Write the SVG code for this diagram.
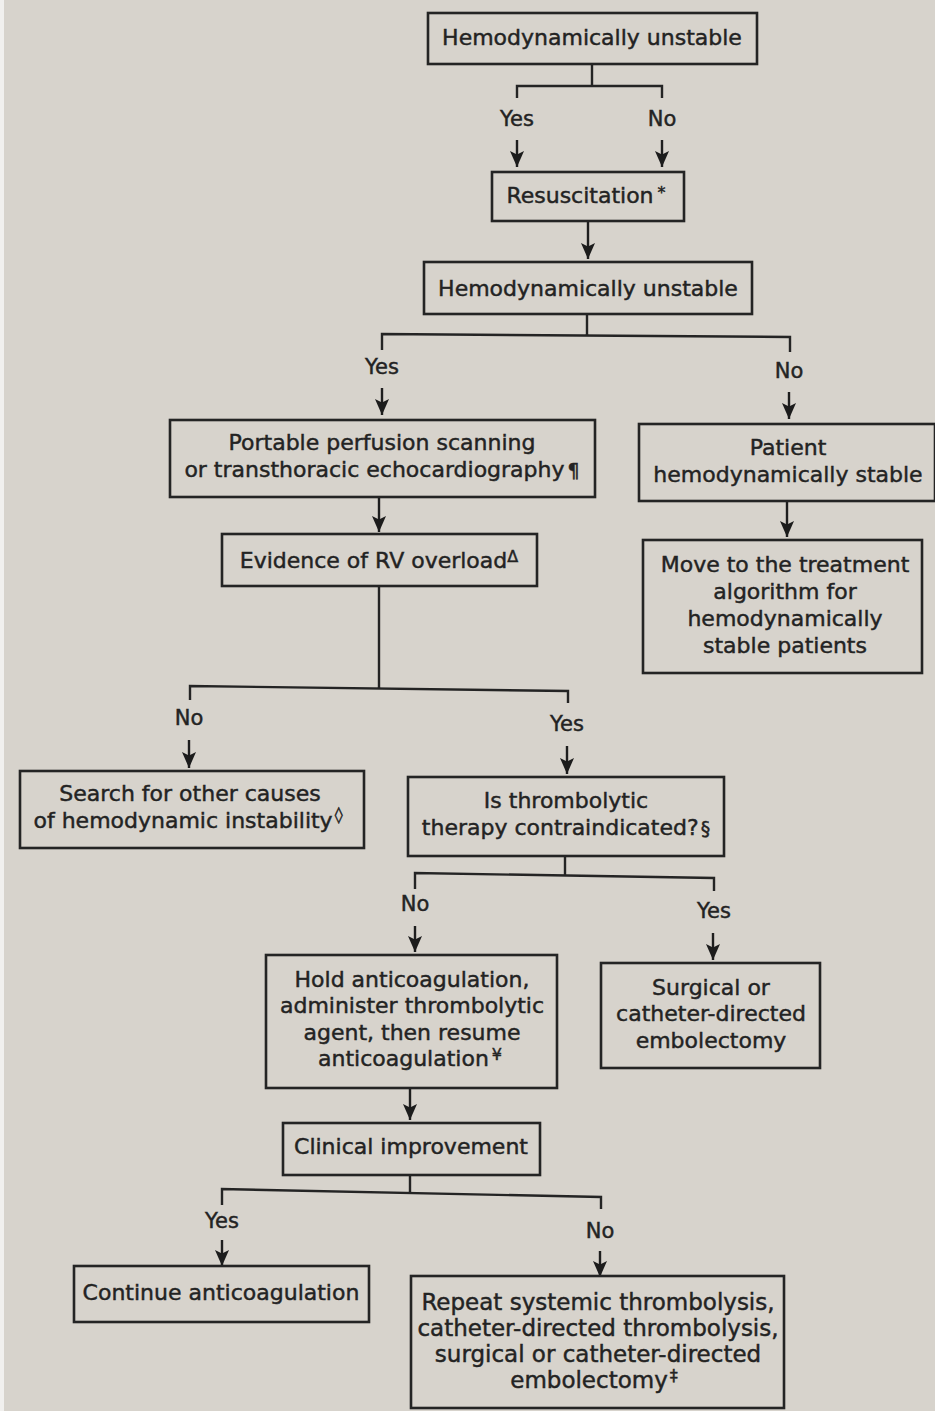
<svg xmlns="http://www.w3.org/2000/svg" width="935" height="1411" viewBox="0 0 935 1411">
  <defs>
    <!-- filled, notched arrowhead; drawn along +x so orient="auto" turns it with the line -->
    <marker id="arrow" viewBox="0 0 16 14" refX="16" refY="7" markerWidth="16" markerHeight="14" markerUnits="userSpaceOnUse" orient="auto">
      <path d="M0,0 L16,7 L0,14 L3.5,7 Z" fill="#1c1c1c"/>
    </marker>
    <style>
      .box { fill: none; stroke: #242424; stroke-width: 2.6; }
      .wire { fill: none; stroke: #242424; stroke-width: 2.4; }
      .arr { fill: none; stroke: #1e1e1e; stroke-width: 2.4; }
      .t { font-family: "DejaVu Sans", Verdana, sans-serif; font-size: 22px; fill: #232323; stroke: #232323; stroke-width: 0.45; text-anchor: middle; }
      .lbl { font-family: "DejaVu Sans", Verdana, sans-serif; font-size: 21px; fill: #232323; stroke: #232323; stroke-width: 0.45; text-anchor: middle; }
      .big { font-size: 23px; }
      .sup { font-size: 16px; }
    </style>
  </defs>

  <!-- paper -->
  <rect x="0" y="0" width="935" height="1411" fill="#d7d3cc"/>
  <rect x="0" y="0" width="4" height="1411" fill="#f1f0ee"/>

  <!-- connectors -->
  <g id="connectors">
    <path class="wire" d="M592,64 V86 M517,98 V86 H662 V98"/>
    <line class="arr" x1="517" y1="140" x2="517" y2="167" marker-end="url(#arrow)"/>
    <line class="arr" x1="662" y1="140" x2="662" y2="167" marker-end="url(#arrow)"/>
    <line class="arr" x1="588" y1="221" x2="588" y2="259" marker-end="url(#arrow)"/>

    <path class="wire" d="M587,314 V335 M382,350 V334 L790,337 V352"/>
    <line class="arr" x1="382" y1="388" x2="382" y2="415" marker-end="url(#arrow)"/>
    <line class="arr" x1="789" y1="392" x2="789" y2="419" marker-end="url(#arrow)"/>
    <line class="arr" x1="379" y1="497" x2="379" y2="532" marker-end="url(#arrow)"/>
    <line class="arr" x1="787" y1="501" x2="787" y2="537" marker-end="url(#arrow)"/>

    <path class="wire" d="M379,586 V688 M190,700 V686 L568,691 V703"/>
    <line class="arr" x1="189" y1="740" x2="189" y2="768" marker-end="url(#arrow)"/>
    <line class="arr" x1="567" y1="746" x2="567" y2="774" marker-end="url(#arrow)"/>

    <path class="wire" d="M565,856 V875 M415,889 V873 L714,878 V891"/>
    <line class="arr" x1="415" y1="926" x2="415" y2="952" marker-end="url(#arrow)"/>
    <line class="arr" x1="713" y1="933" x2="713" y2="960" marker-end="url(#arrow)"/>
    <line class="arr" x1="410" y1="1088" x2="410" y2="1120" marker-end="url(#arrow)"/>

    <path class="wire" d="M410,1175 V1192 M222,1205 V1189 L601,1197 V1209"/>
    <line class="arr" x1="222" y1="1240" x2="222" y2="1266" marker-end="url(#arrow)"/>
    <line class="arr" x1="600" y1="1251" x2="600" y2="1277" marker-end="url(#arrow)"/>

    <text class="lbl" x="517" y="126">Yes</text>
    <text class="lbl" x="662" y="126">No</text>
    <text class="lbl" x="382" y="374">Yes</text>
    <text class="lbl" x="789" y="378">No</text>
    <text class="lbl" x="189" y="725">No</text>
    <text class="lbl" x="567" y="731">Yes</text>
    <text class="lbl" x="415" y="911">No</text>
    <text class="lbl" x="714" y="918">Yes</text>
    <text class="lbl" x="222" y="1228">Yes</text>
    <text class="lbl" x="600" y="1238">No</text>
  </g>

  <g id="n1">
    <rect class="box" x="428" y="13" width="329" height="51"/>
    <text class="t" x="592" y="45">Hemodynamically unstable</text>
  </g>
  <g id="n2">
    <rect class="box" x="492" y="172" width="192" height="49"/>
    <text class="t" x="586" y="203">Resuscitation<tspan class="sup" dx="4" dy="-5">*</tspan></text>
  </g>
  <g id="n3">
    <rect class="box" x="424" y="262" width="328" height="52"/>
    <text class="t" x="588" y="296">Hemodynamically unstable</text>
  </g>
  <g id="n4">
    <rect class="box" x="170" y="420" width="425" height="77"/>
    <text class="t" x="382" y="450">Portable perfusion scanning</text>
    <text class="t" x="382" y="477">or transthoracic echocardiography<tspan dx="3" font-size="19">¶</tspan></text>
  </g>
  <g id="n5">
    <rect class="box" x="639" y="424" width="296" height="77"/>
    <text class="t" x="788" y="455">Patient</text>
    <text class="t" x="788" y="482">hemodynamically stable</text>
  </g>
  <g id="n6">
    <rect class="box" x="222" y="534" width="315" height="52"/>
    <text class="t" x="379" y="568">Evidence of RV overload<tspan class="sup" dy="-6">Δ</tspan></text>
  </g>
  <g id="n7">
    <rect class="box" x="643" y="540" width="279" height="133"/>
    <text class="t" x="785" y="572">Move to the treatment</text>
    <text class="t" x="785" y="599">algorithm for</text>
    <text class="t" x="785" y="626">hemodynamically</text>
    <text class="t" x="785" y="653">stable patients</text>
  </g>
  <g id="n8">
    <rect class="box" x="20" y="771" width="344" height="77"/>
    <text class="t" x="190" y="801">Search for other causes</text>
    <text class="t" x="188" y="828">of hemodynamic instability<tspan class="sup" dx="2" dy="-8">◊</tspan></text>
  </g>
  <g id="n9">
    <rect class="box" x="408" y="777" width="316" height="79"/>
    <text class="t" x="566" y="808">Is thrombolytic</text>
    <text class="t" x="566" y="835">therapy contraindicated?<tspan dx="2" font-size="19">§</tspan></text>
  </g>
  <g id="n10">
    <rect class="box" x="266" y="955" width="291" height="133"/>
    <text class="t" x="412" y="987">Hold anticoagulation,</text>
    <text class="t" x="412" y="1013">administer thrombolytic</text>
    <text class="t" x="412" y="1040">agent, then resume</text>
    <text class="t" x="410" y="1066">anticoagulation<tspan class="sup" dx="3" dy="-6">¥</tspan></text>
  </g>
  <g id="n11">
    <rect class="box" x="601" y="963" width="219" height="105"/>
    <text class="t" x="711" y="995">Surgical or</text>
    <text class="t" x="711" y="1021">catheter-directed</text>
    <text class="t" x="711" y="1048">embolectomy</text>
  </g>
  <g id="n12">
    <rect class="box" x="283" y="1123" width="257" height="52"/>
    <text class="t" x="411" y="1154">Clinical improvement</text>
  </g>
  <g id="n13">
    <rect class="box" x="74" y="1266" width="295" height="56"/>
    <text class="t" x="221" y="1300">Continue anticoagulation</text>
  </g>
  <g id="n14">
    <rect class="box" x="411" y="1276" width="373" height="132"/>
    <text class="t big" x="598" y="1310">Repeat systemic thrombolysis,</text>
    <text class="t big" x="598" y="1336">catheter-directed thrombolysis,</text>
    <text class="t big" x="598" y="1362">surgical or catheter-directed</text>
    <text class="t big" x="594" y="1388">embolectomy<tspan class="sup" dx="2" dy="-7">‡</tspan></text>
  </g>
</svg>
